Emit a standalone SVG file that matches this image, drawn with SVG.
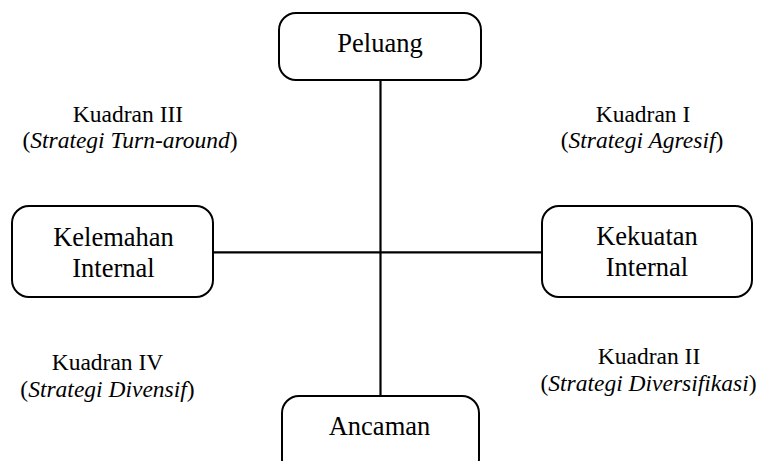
<svg xmlns="http://www.w3.org/2000/svg" width="759" height="461" viewBox="0 0 759 461">
<style>
.box{fill:#fff;stroke:#000;stroke-width:2}
.ln{stroke:#000;stroke-width:2.2;fill:none}
text{font-family:"Liberation Serif","Times New Roman",serif;fill:#000;text-anchor:middle}
.bt{font-size:26.5px}
.qt{font-size:23.5px}
.it{font-style:italic}
</style>
<rect width="759" height="461" fill="#fff"/>
<g id="connectors">
<line class="ln" x1="380.5" y1="80" x2="380.5" y2="397"/>
<line class="ln" x1="213" y1="252.3" x2="542" y2="252.3"/>
</g>
<g id="peluang">
<rect class="box" x="279" y="13" width="202" height="67" rx="17"/>
<text class="bt" x="380" y="52">Peluang</text>
</g>
<g id="kelemahan">
<rect class="box" x="12" y="206" width="201" height="91" rx="17"/>
<text class="bt" x="113.5" y="246">Kelemahan</text>
<text class="bt" x="113.5" y="277">Internal</text>
</g>
<g id="kekuatan">
<rect class="box" x="542" y="206" width="210" height="91" rx="17"/>
<text class="bt" x="647" y="245">Kekuatan</text>
<text class="bt" x="647" y="276">Internal</text>
</g>
<g id="ancaman">
<rect class="box" x="282" y="396" width="197" height="80" rx="17"/>
<text class="bt" x="379.5" y="435">Ancaman</text>
</g>
<g id="kuadran3">
<text class="qt" x="128" y="122">Kuadran III</text>
<text class="qt" x="130" y="148">(<tspan class="it">Strategi Turn-around</tspan>)</text>
</g>
<g id="kuadran1">
<text class="qt" x="643" y="122">Kuadran I</text>
<text class="qt" x="642" y="148">(<tspan class="it">Strategi Agresif</tspan>)</text>
</g>
<g id="kuadran4">
<text class="qt" x="107.5" y="370">Kuadran IV</text>
<text class="qt" x="107.5" y="397">(<tspan class="it">Strategi Divensif</tspan>)</text>
</g>
<g id="kuadran2">
<text class="qt" x="649" y="364">Kuadran II</text>
<text class="qt" x="648.5" y="391">(<tspan class="it">Strategi Diversifikasi</tspan>)</text>
</g>
</svg>
